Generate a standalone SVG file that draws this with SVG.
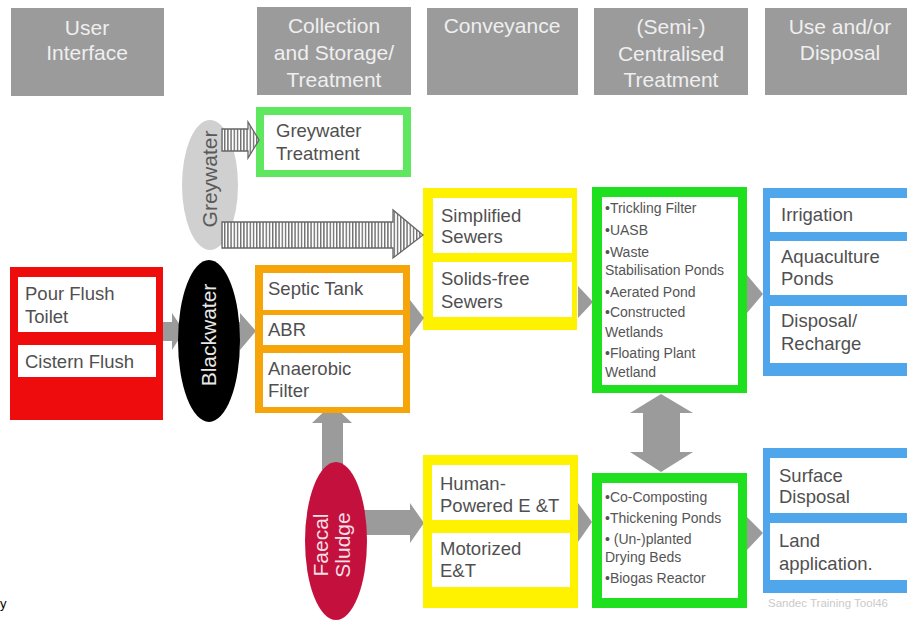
<svg xmlns="http://www.w3.org/2000/svg" width="907" height="622" viewBox="0 0 907 622">
  <defs>
    <style>
      .hdr { fill: #9b9b9b; }
      .hdr-t { font-family: "Liberation Sans", Arial, sans-serif; font-size: 21px; fill: #efefef; text-anchor: middle; }
      .lbl { font-family: "Liberation Sans", Arial, sans-serif; font-size: 18.5px; fill: #505050; }
      .sm { font-family: "Liberation Sans", Arial, sans-serif; font-size: 14px; fill: #555; }
      .in { fill: #fff; }
      .flow { fill: #9b9b9b; }
      .hatch { fill: url(#stripes); stroke: #666; stroke-width: 1.3; }
      .ell-t { font-family: "Liberation Sans", Arial, sans-serif; font-size: 21px; text-anchor: middle; }
    </style>
    <pattern id="stripes" width="3.2" height="10" patternUnits="userSpaceOnUse">
      <rect width="3.2" height="10" fill="#fff"/>
      <rect width="1.4" height="10" fill="#6e6e6e"/>
    </pattern>
  </defs>

  <rect width="907" height="622" fill="#fff"/>

  <!-- column headers -->
  <g id="hdr-user">
    <rect class="hdr" x="11" y="8" width="153" height="88"/>
    <text class="hdr-t" x="87" y="35">User</text>
    <text class="hdr-t" x="87" y="60">Interface</text>
  </g>
  <g id="hdr-collection">
    <rect class="hdr" x="257" y="7" width="154" height="88"/>
    <text class="hdr-t" x="334" y="33">Collection</text>
    <text class="hdr-t" x="334" y="60">and Storage/</text>
    <text class="hdr-t" x="334" y="87">Treatment</text>
  </g>
  <g id="hdr-conveyance">
    <rect class="hdr" x="427" y="8" width="151" height="87"/>
    <text class="hdr-t" x="502" y="33">Conveyance</text>
  </g>
  <g id="hdr-treatment">
    <rect class="hdr" x="594" y="8" width="154" height="87"/>
    <text class="hdr-t" x="671" y="34">(Semi-)</text>
    <text class="hdr-t" x="671" y="61">Centralised</text>
    <text class="hdr-t" x="671" y="87">Treatment</text>
  </g>
  <g id="hdr-use">
    <rect class="hdr" x="765" y="8" width="142" height="87"/>
    <text class="hdr-t" x="840" y="34">Use and/or</text>
    <text class="hdr-t" x="840" y="60">Disposal</text>
  </g>

  <!-- connectors drawn beneath the nodes -->
  <g id="connectors-under">
    <polygon class="flow" points="160,322 172,322 172,313 184,331 172,350 172,341 160,341"/>
    <polygon class="flow" points="228,322 240,322 240,313 256,331 240,350 240,341 228,341"/>
    <polygon class="flow" points="322,470 322,423 312,423 332,404 352,423 343,423 343,470"/>
    <polygon class="flow" points="360,510 410,510 410,503 424,523 410,543 410,535 360,535"/>
  </g>

  <!-- user interface -->
  <g id="user-interface">
    <rect x="10" y="267" width="153" height="153" fill="#ee0c0c"/>
    <rect class="in" x="18" y="277" width="138" height="55"/>
    <rect class="in" x="18" y="345" width="138" height="32"/>
    <text class="lbl" x="25" y="300">Pour Flush</text>
    <text class="lbl" x="25" y="323">Toilet</text>
    <text class="lbl" x="25" y="368">Cistern Flush</text>
  </g>

  <!-- product streams -->
  <g id="greywater">
    <ellipse cx="210" cy="185" rx="28" ry="65" fill="#d0d0d0"/>
    <text class="ell-t" fill="#5a5a5a" transform="translate(210,179) rotate(-90)" y="7">Greywater</text>
  </g>
  <g id="blackwater">
    <ellipse cx="209" cy="341" rx="31" ry="81" fill="#000"/>
    <text class="ell-t" fill="#e8e8e8" transform="translate(209,335) rotate(-90)" y="7">Blackwater</text>
  </g>
  <g id="faecal-sludge">
    <ellipse cx="336" cy="541" rx="31" ry="79" fill="#c4103c"/>
    <text class="ell-t" fill="#f4dfe4" transform="translate(336,545) rotate(-90)" y="-8">Faecal</text>
    <text class="ell-t" fill="#f4dfe4" transform="translate(336,545) rotate(-90)" y="14">Sludge</text>
  </g>

  <!-- collection and storage / treatment -->
  <g id="greywater-treatment">
    <rect x="256" y="107" width="155" height="70" fill="#5fe85f"/>
    <rect class="in" x="264" y="115" width="139" height="55"/>
    <text class="lbl" x="276" y="137">Greywater</text>
    <text class="lbl" x="276" y="160">Treatment</text>
  </g>
  <g id="onsite-treatment">
    <rect x="255" y="265" width="155" height="148" fill="#f5a50a"/>
    <rect class="in" x="263" y="273" width="140" height="37"/>
    <rect class="in" x="263" y="315" width="140" height="30"/>
    <rect class="in" x="263" y="353" width="140" height="54"/>
    <text class="lbl" x="268" y="295">Septic Tank</text>
    <text class="lbl" x="268" y="336">ABR</text>
    <text class="lbl" x="268" y="375">Anaerobic</text>
    <text class="lbl" x="268" y="397">Filter</text>
  </g>

  <!-- conveyance -->
  <g id="sewers">
    <rect x="423" y="188" width="154" height="142" fill="#fff200"/>
    <rect class="in" x="433" y="198" width="139" height="55"/>
    <rect class="in" x="433" y="262" width="139" height="55"/>
    <text class="lbl" x="441" y="222">Simplified</text>
    <text class="lbl" x="441" y="243">Sewers</text>
    <text class="lbl" x="441" y="285">Solids-free</text>
    <text class="lbl" x="441" y="308">Sewers</text>
  </g>
  <g id="emptying-transport">
    <rect x="423" y="455" width="155" height="153" fill="#fff200"/>
    <rect class="in" x="432" y="465" width="138" height="55"/>
    <rect class="in" x="432" y="533" width="138" height="54"/>
    <text class="lbl" x="440" y="490">Human-</text>
    <text class="lbl" x="440" y="512">Powered E &amp;T</text>
    <text class="lbl" x="440" y="555">Motorized</text>
    <text class="lbl" x="440" y="577">E&amp;T</text>
  </g>

  <!-- (semi-)centralised treatment -->
  <g id="wastewater-treatment">
    <rect x="592" y="187" width="155" height="206" fill="#1fe01f"/>
    <rect class="in" x="602" y="197" width="136" height="188"/>
    <text class="sm" x="605" y="213">•Trickling Filter</text>
    <text class="sm" x="605" y="235">•UASB</text>
    <text class="sm" x="605" y="257">•Waste</text>
    <text class="sm" x="605" y="275">Stabilisation Ponds</text>
    <text class="sm" x="605" y="297">•Aerated Pond</text>
    <text class="sm" x="605" y="317" font-size="13">•Constructed</text>
    <text class="sm" x="605" y="337">Wetlands</text>
    <text class="sm" x="605" y="358">•Floating Plant</text>
    <text class="sm" x="605" y="377">Wetland</text>
  </g>
  <g id="sludge-treatment">
    <rect x="592" y="473" width="155" height="135" fill="#1fe01f"/>
    <rect class="in" x="602" y="483" width="136" height="115"/>
    <text class="sm" x="605" y="502">•Co-Composting</text>
    <text class="sm" x="605" y="523">•Thickening Ponds</text>
    <text class="sm" x="605" y="544" font-size="13">• (Un-)planted</text>
    <text class="sm" x="605" y="562">Drying Beds</text>
    <text class="sm" x="605" y="583">•Biogas Reactor</text>
  </g>

  <!-- use and/or disposal -->
  <g id="water-reuse">
    <rect x="763" y="188" width="144" height="188" fill="#4fa6ea"/>
    <rect class="in" x="770" y="198" width="137" height="34"/>
    <rect class="in" x="770" y="241" width="137" height="54"/>
    <rect class="in" x="770" y="306" width="137" height="57"/>
    <text class="lbl" x="781" y="221">Irrigation</text>
    <text class="lbl" x="781" y="263">Aquaculture</text>
    <text class="lbl" x="781" y="285">Ponds</text>
    <text class="lbl" x="781" y="327">Disposal/</text>
    <text class="lbl" x="781" y="350">Recharge</text>
  </g>
  <g id="sludge-reuse">
    <rect x="763" y="448" width="144" height="145" fill="#4fa6ea"/>
    <rect class="in" x="770" y="458" width="137" height="55"/>
    <rect class="in" x="770" y="523" width="137" height="57"/>
    <text class="lbl" x="779" y="482">Surface</text>
    <text class="lbl" x="779" y="503">Disposal</text>
    <text class="lbl" x="779" y="547">Land</text>
    <text class="lbl" x="779" y="570">application.</text>
  </g>

  <!-- connectors -->
  <g id="connectors">
    <polygon class="hatch" points="222,129 248,129 248,122 259,140 248,158 248,151 222,151"/>
    <polygon class="hatch" points="222,222 393,222 393,210 423,235 393,258 393,248 222,248"/>
    <polygon class="flow" points="410,300 424,318 410,337"/>
    <polygon class="flow" points="578,286 593,302 578,318"/>
    <polygon class="flow" points="747,275 763,294 747,313"/>
    <polygon class="flow" points="578,503 592,522 578,542"/>
    <polygon class="flow" points="747,517 763,533 747,550"/>
    <polygon class="flow" points="661,394 693,413 680,413 680,452 693,452 661,472 630,452 643,452 643,413 630,413"/>
  </g>

  <text x="768" y="607" font-family="Liberation Sans, Arial, sans-serif" font-size="11.5" fill="#cacaca">Sandec Training Tool46</text>
  <text x="0" y="608" font-family="Liberation Sans, Arial, sans-serif" font-size="13" fill="#000">y</text>
</svg>
